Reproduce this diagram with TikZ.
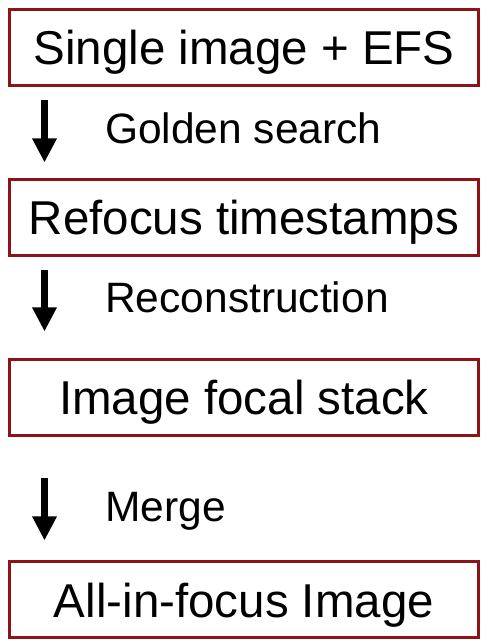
\documentclass[tikz,border=0pt]{standalone}
\usepackage{fontspec}
\setmainfont{Liberation Sans}
\usetikzlibrary{arrows.meta,calc}
\definecolor{boxred}{RGB}{140,20,25}
\begin{document}
\begin{tikzpicture}[x=1pt,y=1pt,
  stagebox/.style={draw=boxred, line width=3pt, minimum width=469pt, minimum height=76pt,
    inner sep=0pt, text height=34pt, text depth=0pt, font=\fontsize{47.5}{57}\selectfont},
  steplabel/.style={anchor=base west, inner sep=0pt, font=\fontsize{42.5}{51}\selectfont},
  flow/.style={-{Triangle[width=23pt,length=24pt]}, line width=7pt}]
\useasboundingbox (0,0) rectangle (482,640);
\node[stagebox] (b1) at (244,592) {Single image + EFS};
\node[stagebox] (b2) at (244,422.5) {Refocus timestamps};
\node[stagebox] (b3) at (244,242) {Image focal stack};
\node[stagebox] (b4) at (244,40) {All-in-focus Image};
\draw[flow] ($(b1.south west)+(36.5,-13)$) -- ($(b2.north west)+(36.5,15.5)$);
\draw[flow] ($(b2.south west)+(36.5,-13.5)$) -- ($(b3.north west)+(36.5,27)$);
\draw[flow] ($(b3.south west)+(36.5,-41)$) -- ($(b4.north west)+(36.5,20)$);
\node[steplabel] (l1) at (105,496) {Golden search};
\node[steplabel] (l2) at (105,327) {Reconstruction};
\node[steplabel] (l3) at (105,118) {Merge};
\end{tikzpicture}
\end{document}
